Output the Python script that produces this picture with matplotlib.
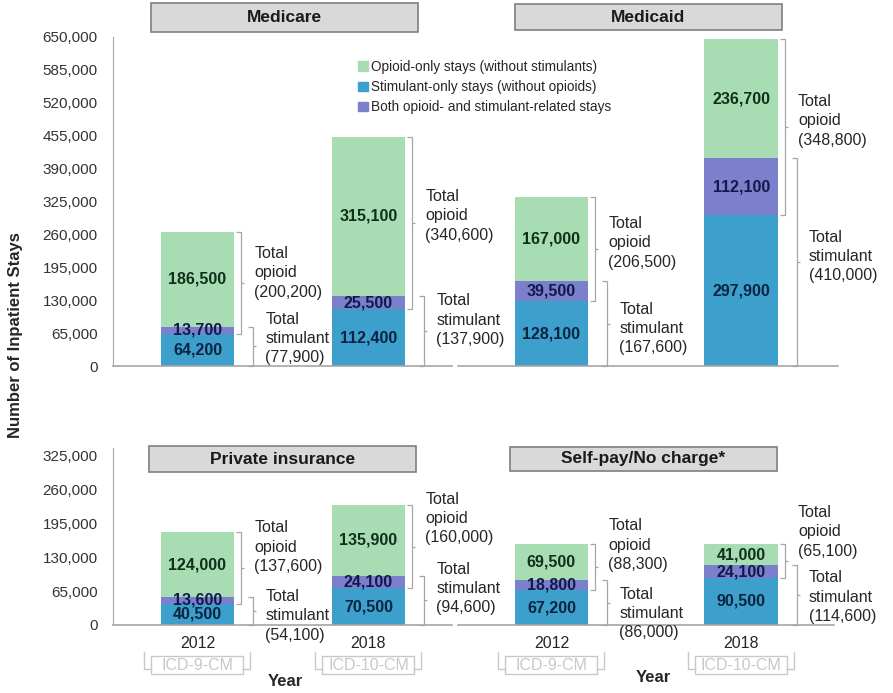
import matplotlib
matplotlib.use("Agg")
import matplotlib.pyplot as plt
import matplotlib.patches as mpatches
import matplotlib.transforms as mtransforms

plt.rcParams['font.family'] = ['Liberation Sans', 'DejaVu Sans']

# Данные: порядок столбцов - Medicare 2012, 2018, Medicaid 2012, 2018,
# Private 2012, 2018, Self-pay 2012, 2018
payers = ["Medicare", "Medicaid", "Private insurance", "Self-pay/No charge*"]
years = ["2012", "2018"]
coding = ["ICD-9-CM", "ICD-10-CM"]
stim_only = [64200, 112400, 128100, 297900, 40500, 70500, 67200, 90500]
both = [13700, 25500, 39500, 112100, 13600, 24100, 18800, 24100]
opioid_only = [186500, 315100, 167000, 236700, 124000, 135900, 69500, 41000]
total_opioid = [200200, 340600, 206500, 348800, 137600, 160000, 88300, 65100]
total_stim = [77900, 137900, 167600, 410000, 54100, 94600, 86000, 114600]
legend_labels = ["Opioid-only stays (without stimulants)",
                 "Stimulant-only stays (without opioids)",
                 "Both opioid- and stimulant-related stays"]

# Оформление
W, H = 893, 693
c_op, c_st, c_both = "#a8dcb3", "#3c9fcc", "#7b7fcc"
t_op, t_st, t_both = "#10301a", "#0b2440", "#121a4c"
x_pos = [0, 1, 2.07, 3.18]
bar_w = 0.43
px = 171.0  # пикселей на единицу по x
xlim = (-0.494, 3.746)
# сдвиги подписей "Total ..." по вертикали (пиксели)
op_dy = [10, 7, 6, 6, 21, 28, 22, 29]
st_dy = [8, 11, -5, 6, -5, 12, -11, -2]


def fig_rect(x0, y0, x1, y1):
    return [x0 / W, 1 - y1 / H, (x1 - x0) / W, (y1 - y0) / H]


def brace(ax, x, y0, y1):
    d = 5 / px
    ym = (y0 + y1) / 2
    kw = dict(color="#a6a6a6", lw=0.9, clip_on=False, solid_capstyle="butt")
    ax.plot([x - d, x, x, x - d], [y1, y1, y0, y0], **kw)
    ax.plot([x, x + 3 / px], [ym, ym], **kw)


fig = plt.figure(figsize=(W / 100, H / 100), dpi=100)
ax_top = fig.add_axes(fig_rect(113, 37, 838, 366))
ax_bot = fig.add_axes(fig_rect(113, 448, 838, 625))

for row, (ax, ymax) in enumerate([(ax_top, 650000), (ax_bot, 340000)]):
    ax.set_xlim(*xlim)
    ax.set_ylim(0, ymax)
    ticks = list(range(0, 650001 if row == 0 else 325001, 65000))
    ax.set_yticks(ticks)
    ax.set_yticklabels([f"{t:,}" for t in ticks], fontsize=11, color="#333333")
    ax.tick_params(axis="y", length=0, pad=11)
    for s in ["top", "right", "bottom"]:
        ax.spines[s].set_visible(False)
    ax.spines["left"].set_color("#a6a6a6")
    # базовая линия с разрывом между группами
    gap = (455 - 113) / 725
    ax.axhline(0, xmin=0, xmax=gap - 0.004, color="#a6a6a6", lw=1.2, clip_on=False)
    ax.axhline(0, xmin=gap + 0.004, xmax=1 if row == 0 else 0.995,
               color="#a6a6a6", lw=1.2, clip_on=False)

    idx = [row * 4 + k for k in range(4)]
    so = [stim_only[i] for i in idx]
    bo = [both[i] for i in idx]
    oo = [opioid_only[i] for i in idx]
    mid = [a + b for a, b in zip(so, bo)]
    ax.bar(x_pos, so, bar_w, color=c_st)
    ax.bar(x_pos, bo, bar_w, bottom=so, color=c_both)
    ax.bar(x_pos, oo, bar_w, bottom=mid, color=c_op)

    for k, i in enumerate(idx):
        x = x_pos[k]
        ax.text(x, so[k] / 2, f"{so[k]:,}", ha="center", va="center",
                fontsize=11.5, fontweight="bold", color=t_st)
        ax.text(x, so[k] + bo[k] / 2, f"{bo[k]:,}", ha="center", va="center",
                fontsize=11.5, fontweight="bold", color=t_both)
        ax.text(x, mid[k] + oo[k] / 2, f"{oo[k]:,}", ha="center", va="center",
                fontsize=11.5, fontweight="bold", color=t_op)

        right = x + bar_w / 2
        top = mid[k] + oo[k]
        bx_op = right + 7 / px
        bx_st = right + 19 / px
        brace(ax, bx_op, so[k], top)
        brace(ax, bx_st, 0, total_stim[i])
        ax.annotate(f"Total\nopioid\n({total_opioid[i]:,})",
                    (bx_op, (so[k] + top) / 2), xytext=(13, op_dy[i]),
                    textcoords="offset pixels", ha="left", va="center",
                    fontsize=11.5, linespacing=1.35, color="#262626",
                    annotation_clip=False)
        ax.annotate(f"Total\nstimulant\n({total_stim[i]:,})",
                    (bx_st, total_stim[i] / 2), xytext=(12, st_dy[i]),
                    textcoords="offset pixels", ha="left", va="center",
                    fontsize=11.5, linespacing=1.35, color="#262626",
                    annotation_clip=False)

ax_top.set_xticks([])
ax_bot.set_xticks(x_pos)
ax_bot.set_xticklabels(years * 2, fontsize=11.5, color="#262626")
ax_bot.tick_params(axis="x", length=0, pad=8)

# ICD-коды под годами
tr = mtransforms.blended_transform_factory(ax_bot.transData, fig.transFigure)
for k, x in enumerate(x_pos):
    half = 46 / px
    ax_bot.add_patch(mpatches.Rectangle((x - half, 1 - 674 / H), 2 * half, 18 / H,
                                        transform=tr, fill=False, ec="#c8c8c8",
                                        lw=1.0, clip_on=False))
    ax_bot.text(x, 1 - 665 / H, coding[k % 2], transform=tr, ha="center",
                va="center", fontsize=11.5, color="#c8c8c8")
    for sgn in (-1, 1):
        xb = x + sgn * 53 / px
        ax_bot.plot([xb, xb, x + sgn * half], [1 - 652 / H, 1 - 669 / H, 1 - 669 / H],
                    transform=tr, color="#c8c8c8", lw=1.0, clip_on=False)

fig.text(285 / W, 1 - 682 / H, "Year", ha="center", va="center",
         fontsize=12, fontweight="bold", color="#262626")
fig.text(653 / W, 1 - 678 / H, "Year", ha="center", va="center",
         fontsize=12, fontweight="bold", color="#262626")
fig.text(16 / W, 1 - 335 / H, "Number of Inpatient Stays", rotation=90,
         ha="center", va="center", fontsize=12, fontweight="bold", color="#262626")

# заголовки панелей
title_boxes = [(151, 3, 418, 32), (515, 4, 782, 30), (149, 446, 416, 472), (510, 447, 777, 471)]
for name, (x0, y0, x1, y1) in zip(payers, title_boxes):
    fig.add_artist(mpatches.Rectangle((x0 / W, 1 - y1 / H), (x1 - x0) / W, (y1 - y0) / H,
                                      transform=fig.transFigure, fc="#d9d9d9",
                                      ec="#7f7f7f", lw=1.2))
    fig.text((x0 + x1) / 2 / W, 1 - (y0 + y1) / 2 / H, name, ha="center",
             va="center", fontsize=12.5, fontweight="bold", color="#1a1a1a")

handles = [mpatches.Patch(color=c) for c in (c_op, c_st, c_both)]
fig.legend(handles, legend_labels, loc="upper left", bbox_to_anchor=(358 / W, 1 - 60 / H),
           frameon=False, fontsize=9.8, handlelength=0.7, handleheight=0.7,
           handletextpad=0.25, labelspacing=0.45, borderpad=0, borderaxespad=0,
           labelcolor="#262626")

fig.savefig("out.png", dpi=100)
